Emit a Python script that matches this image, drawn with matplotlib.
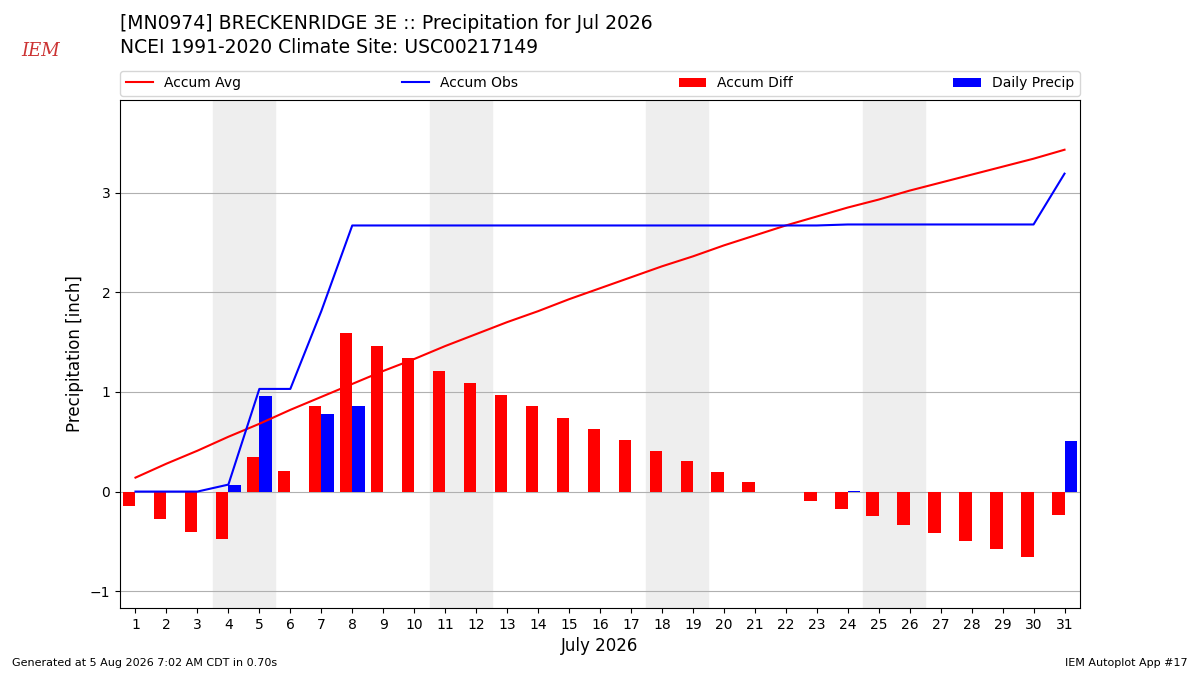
import numpy as np
import matplotlib
matplotlib.use("Agg")
import matplotlib.pyplot as plt

days = np.arange(1, 32)
accum_avg = [0.14, 0.28, 0.41, 0.55, 0.68, 0.82, 0.95, 1.08, 1.21, 1.33, 1.46, 1.58, 1.70, 1.81,
             1.93, 2.04, 2.15, 2.26, 2.36, 2.47, 2.57, 2.67, 2.76, 2.85, 2.93, 3.02, 3.10, 3.18,
             3.26, 3.34, 3.43]
daily = [0, 0, 0, 0.07, 0.96, 0, 0.78, 0.86, 0, 0, 0, 0, 0, 0, 0, 0, 0, 0, 0, 0, 0, 0, 0,
         0.01, 0, 0, 0, 0, 0, 0, 0.51]
accum_obs = np.cumsum(daily)
accum_diff = accum_obs - np.array(accum_avg)
weekends = [4, 11, 18, 25]

fig = plt.figure(figsize=(12, 6.75), dpi=100)
ax = fig.add_axes([0.1, 0.099, 0.8, 0.753])

for w in weekends:
    ax.axvspan(w - 0.5, w + 1.5, color="#eeeeee", zorder=0)

ax.plot(days, accum_avg, color="r", label="Accum Avg", zorder=3)
ax.plot(days, accum_obs, color="b", label="Accum Obs", zorder=3)
ax.bar(days - 0.2, accum_diff, width=0.4, color="r", label="Accum Diff", zorder=2)
ax.bar(days + 0.2, daily, width=0.4, color="b", label="Daily Precip", zorder=2)

ax.set_xlim(0.5, 31.5)
ax.set_ylim(-1.17, 3.93)
ax.set_xticks(days)
ax.set_yticks([-1, 0, 1, 2, 3])
ax.yaxis.grid(True, color="#b0b0b0")
ax.set_axisbelow(True)
ax.set_xlabel("July 2026", fontsize=12)
ax.set_ylabel("Precipitation [inch]", fontsize=12)
ax.legend(loc="lower left", bbox_to_anchor=(0, 1.008, 1, 0.05), ncol=4, mode="expand",
          borderaxespad=0, fontsize=10)

fig.text(0.1, 0.965, "[MN0974] BRECKENRIDGE 3E :: Precipitation for Jul 2026", fontsize=13.5, va="center")
fig.text(0.1, 0.93, "NCEI 1991-2020 Climate Site: USC00217149", fontsize=13.5, va="center")
fig.text(0.018, 0.925, "IEM", fontsize=13, color="#cc3333", style="italic", family="serif", va="center")
fig.text(0.01, 0.013, "Generated at 5 Aug 2026 7:02 AM CDT in 0.70s", fontsize=8)
fig.text(0.99, 0.013, "IEM Autoplot App #17", fontsize=8, ha="right")

fig.savefig("out.png")
